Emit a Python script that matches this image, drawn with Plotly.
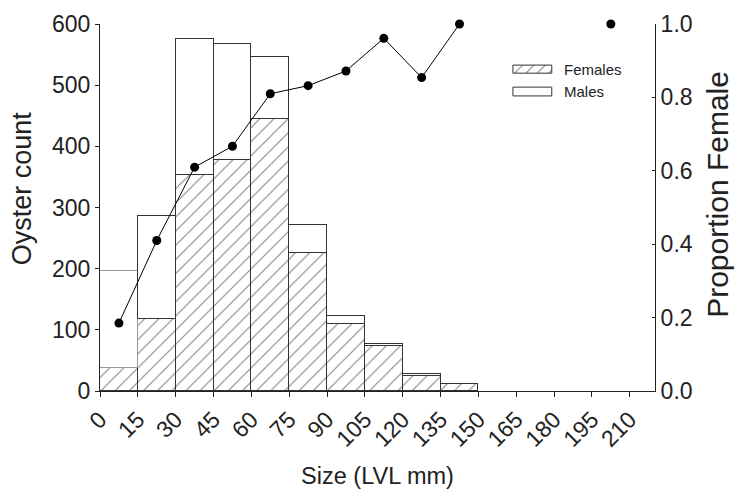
import plotly.graph_objects as go

# ---- data ----
bin_mid = [7.5, 22.5, 37.5, 52.5, 67.5, 82.5, 97.5, 112.5, 127.5, 142.5]
females = [37, 117, 353, 378, 444, 226, 110, 73, 24, 11]
males = [160, 169, 223, 190, 102, 46, 13, 4, 4, 0]

prop_x = [7.5, 22.5, 37.5, 52.5, 67.5, 82.5, 97.5, 112.5, 127.5, 142.5,
          157.5, 172.5, 187.5, 202.5]
prop_female = [0.185, 0.41, 0.61, 0.667, 0.81, 0.832, 0.872, 0.961, 0.854, 1.0,
               None, None, None, 1.0]

x_ticks = list(range(0, 211, 15))
legend_labels = ["Females", "Males"]
y_title = "Oyster count"
y2_title = "Proportion Female"
x_title = "Size (LVL mm)"

FONT = "Liberation Sans, Arial, sans-serif"
INK = "#222222"
EDGE = "#333333"
HATCH = dict(shape="/", fgcolor="#000000", bgcolor="white", size=10, solidity=0.1)

fig = go.Figure()

fig.add_trace(go.Bar(
    x=bin_mid, y=females, width=15, name="Females", showlegend=False,
    marker=dict(color="white", line=dict(color=EDGE, width=1.2), pattern=HATCH),
))
male_edge = ["#9a9a9a"] + [EDGE] * (len(males) - 1)
fig.add_trace(go.Bar(
    x=bin_mid, y=males, width=15, name="Males", showlegend=False,
    marker=dict(color="white", line=dict(color=male_edge, width=1.2)),
))

fig.add_trace(go.Scatter(
    x=prop_x, y=prop_female, yaxis="y2", mode="lines+markers",
    connectgaps=False, showlegend=False, cliponaxis=False,
    line=dict(color="black", width=1),
    marker=dict(color="black", size=9),
))

# ---- hand-made legend (swatches drawn on a hidden overlay axis in plot-fraction units) ----
sw_x0, sw_x1 = 0.744, 0.814
sw_rows = [(0.866, 0.888), (0.804, 0.828)]
for (y0, y1), lab in zip(sw_rows, legend_labels):
    fig.add_trace(go.Scatter(
        x=[sw_x0, sw_x1, sw_x1, sw_x0, sw_x0], y=[y0, y0, y1, y1, y0],
        xaxis="x3", yaxis="y3", mode="lines", fill="toself", showlegend=False,
        hoverinfo="skip", fillcolor="white", line=dict(color=EDGE, width=1),
        fillpattern=dict(shape="/", fgcolor="#000000", bgcolor="white", size=8, solidity=0.12)
        if lab == "Females" else None,
    ))
    fig.add_annotation(x=0.832, y=(y0 + y1) / 2, xref="x3", yref="y3", text=lab,
                       showarrow=False, xanchor="left", yanchor="middle",
                       font=dict(size=15, color=INK))

# axis titles as rotated annotations (for exact placement)
fig.add_annotation(x=-0.14, y=0.553, xref="paper", yref="paper", text=y_title,
                   textangle=-90, showarrow=False, xanchor="center", yanchor="middle",
                   font=dict(size=27, color=INK))
fig.add_annotation(x=1.112, y=0.535, xref="paper", yref="paper", text=y2_title,
                   textangle=-90, showarrow=False, xanchor="center", yanchor="middle",
                   font=dict(size=30, color=INK))

fig.update_layout(
    width=740, height=489,
    margin=dict(l=100, r=85, t=24, b=98),
    paper_bgcolor="white", plot_bgcolor="white",
    barmode="stack", bargap=0, showlegend=False,
    font=dict(family=FONT, color=INK, size=23),
    xaxis=dict(range=[0, 220], tickvals=x_ticks, tickangle=-45, automargin=False,
               showline=True, linecolor=INK, linewidth=1,
               ticks="outside", ticklen=5, tickcolor=INK,
               showgrid=False, zeroline=False,
               title=dict(text=x_title, font=dict(size=23.5), standoff=30)),
    yaxis=dict(range=[0, 600], dtick=100, automargin=False,
               showline=True, linecolor=INK, linewidth=1,
               ticks="outside", ticklen=4, tickcolor=INK,
               showgrid=False, zeroline=False),
    yaxis2=dict(range=[0, 1], dtick=0.2, tickformat=".1f", automargin=False,
                overlaying="y", side="right",
                showline=True, linecolor=INK, linewidth=1,
                ticks="inside", ticklen=3, tickcolor=INK,
                showgrid=False, zeroline=False),
    xaxis3=dict(overlaying="x", range=[0, 1], visible=False, fixedrange=True),
    yaxis3=dict(overlaying="y", range=[0, 1], visible=False, fixedrange=True),
)

fig.write_html("out.html", config={"displayModeBar": False},
               post_script="document.body.style.margin='0';")
